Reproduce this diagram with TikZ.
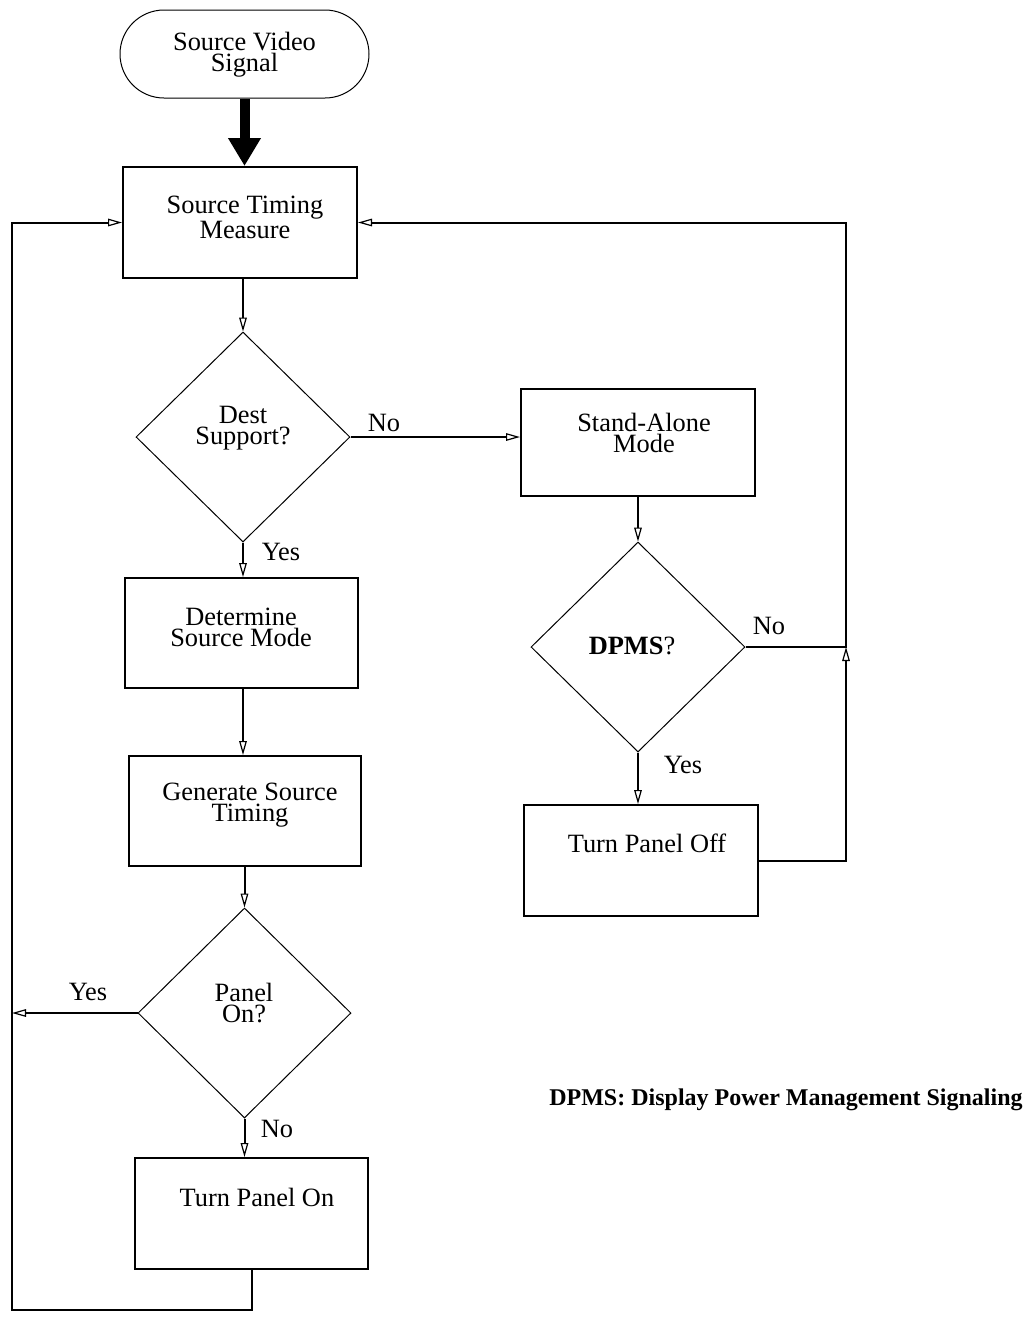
\documentclass[tikz,border=0pt]{standalone}
\usepackage{fontspec}
\setmainfont{Liberation Serif}
\usetikzlibrary{arrows.meta,shapes.geometric,shapes.misc}
\begin{document}
\begin{tikzpicture}[x=0.5pt,y=-0.5pt,
  box/.style={draw, line width=1pt, inner sep=0pt},
  dia/.style={draw, diamond, line width=0.5pt, inner sep=0pt},
  txt/.style={align=center, inner sep=0pt, font=\fontsize{13.2}{10.5}\selectfont},
  wire/.style={line width=1pt},
  conn/.style={line width=1pt, -{Triangle[open,length=7pt,width=3.8pt,line width=0.6pt]}},
  bigarrow/.style={line width=5pt, -{Triangle[length=14pt,width=15.5pt]}}
]
\useasboundingbox (0,0) rectangle (1031,1324);

% shapes
\node[draw, rounded rectangle, line width=0.5pt, minimum width=124.5pt, minimum height=44pt, inner sep=0pt] (src) at (244.5,54) {};
\node[box, minimum width=117pt, minimum height=55.5pt] (stm) at (240,222.5) {};
\node[dia, minimum width=107pt, minimum height=105pt] (dest) at (243,437) {};
\node[box, minimum width=117pt, minimum height=53.5pt] (sam) at (638,442.5) {};
\node[box, minimum width=116.5pt, minimum height=55pt] (det) at (241.5,633) {};
\node[box, minimum width=116pt, minimum height=55pt] (gen) at (245,811) {};
\node[dia, minimum width=106.5pt, minimum height=105pt] (pon) at (244.5,1013) {};
\node[box, minimum width=116.5pt, minimum height=55.5pt] (tpon) at (251.5,1213.5) {};
\node[dia, minimum width=107pt, minimum height=105pt] (dpms) at (638,647) {};
\node[box, minimum width=117pt, minimum height=55.5pt] (tpoff) at (641,860.5) {};

% texts
\node[txt] (srcT) at (244.5,55) {Source Video\\Signal};
\node[txt] (stmT) at (245,217) {Source Timing\\Measure};
\node[txt] (destT) at (243,428) {Dest\\Support?};
\node[txt] (samT) at (644,433) {Stand-Alone\\Mode};
\node[txt] (detT) at (241,627) {Determine\\Source Mode};
\node[txt] (genT) at (250,805) {Generate Source\\Timing};
\node[txt] (ponT) at (244,1003) {Panel\\On?};
\node[txt] (dpmsT) at (632,646) {\textbf{DPMS}?};
\node[txt] (tpoffT) at (647,843) {Turn Panel Off};
\node[txt] (tponT) at (257,1197) {Turn Panel On};

% branch labels
\node[txt] (lNo1) at (384,423) {No};
\node[txt] (lYes1) at (281,552) {Yes};
\node[txt] (lNo2) at (769,626) {No};
\node[txt] (lYes2) at (683,765) {Yes};
\node[txt] (lYes3) at (88,992) {Yes};
\node[txt] (lNo3) at (277,1129) {No};

\node[txt, font=\fontsize{12}{10.5}\selectfont\bfseries] (note) at (786,1100) {DPMS: Display Power Management Signaling};

% loop corners
\coordinate (loopL) at (12,1310);
\coordinate (jR) at (846,647);

% connectors
\draw[bigarrow] (src.south) -- (src.south |- stm.north);
\draw[conn] (stm.south -| dest.north) -- (dest.north);
\draw[conn] (dest.east) -- (dest.east -| sam.west);
\draw[conn] (dest.south) -- (dest.south |- det.north);
\draw[conn] (det.south -| dest.south) -- (dest.south |- gen.north);
\draw[conn] (gen.south -| pon.north) -- (pon.north);
\draw[conn] (pon.south) -- (pon.south |- tpon.north);
\draw[conn] (pon.west) -- (pon.west -| loopL);
\draw[conn] (tpon.south) |- (loopL) |- (stm.west);
\draw[conn] (sam.south -| dpms.north) -- (dpms.north);
\draw[conn] (dpms.south) -- (dpms.south |- tpoff.north);
\draw[conn] (dpms.east) -- (jR) |- (stm.east);
\draw[conn] (tpoff.east) -| (jR);
\end{tikzpicture}
\end{document}
